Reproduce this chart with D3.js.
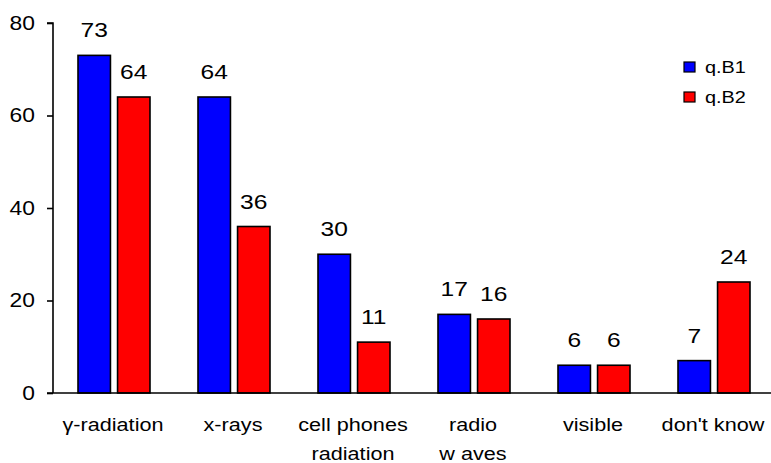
<!DOCTYPE html>
<html>
<head>
<meta charset="utf-8">
<script src="https://cdn.jsdelivr.net/npm/d3@7"></script>
<style>
  body { margin: 0; background: #fff; }
  text { font-family: "Liberation Sans", Arial, sans-serif; fill: #000; }
</style>
</head>
<body>
<script>
const categories = [['γ-radiation'], ['x-rays'], ['cell phones', 'radiation'], ['radio', 'w aves'], ['visible'], ["don't know"]];
const series = ['q.B1', 'q.B2'];
const b1 = [73, 64, 30, 17, 6, 7];
const b2 = [64, 36, 11, 16, 6, 24];
const yTicks = [0, 20, 40, 60, 80];
const colors = ['#0000ff', '#ff0000'];

const width = 771;
const height = 463;
const padLeft = 53;
const padRight = 773;
const padTop = 23;
const padBottom = 393;
// the original's text is a bit stretched sideways
const sx = 1.17;

const svg = d3.select('body')
  .append('svg')
  .attr('width', width)
  .attr('height', height);

const x0 = d3.scaleBand()
  .domain(d3.range(categories.length))
  .range([padLeft, padRight]);

const x1 = d3.scaleBand()
  .domain(series)
  .range([25, 97])
  .paddingInner(0.18);

const y = d3.scaleLinear()
  .domain([0, 80])
  .range([padBottom, padTop]);

const rows = categories.map((c, i) => ({i, vals: [b1[i], b2[i]]}));

const groups = svg.selectAll('g.grp')
  .data(rows)
  .enter()
  .append('g')
  .attr('class', 'grp')
  .attr('transform', d => `translate(${x0(d.i)},0)`);

groups.selectAll('rect')
  .data(d => d.vals.map((v, k) => ({v, k})))
  .enter()
  .append('rect')
  .attr('x', d => x1(series[d.k]))
  .attr('y', d => y(d.v))
  .attr('width', x1.bandwidth())
  .attr('height', d => y(0) - y(d.v))
  .style('fill', d => colors[d.k])
  .style('stroke', '#000')
  .style('stroke-width', 1.6);

groups.selectAll('text.val')
  .data(d => d.vals.map((v, k) => ({v, k})))
  .enter()
  .append('text')
  .attr('class', 'val')
  .attr('transform', d => `translate(${x1(series[d.k]) + x1.bandwidth() / 2},${y(d.v) - 18}) scale(${sx},1)`)
  .attr('text-anchor', 'middle')
  .style('font-size', '21px')
  .text(d => d.v);

const yAxis = d3.axisLeft(y)
  .tickValues(yTicks)
  .tickSize(6)
  .tickPadding(11);

const ya = svg.append('g')
  .attr('transform', `translate(${padLeft},0)`)
  .call(yAxis);
ya.select('.domain').attr('stroke-width', 1.6).attr('d', `M-6,${padTop}H0V${padBottom}`);
ya.selectAll('line').attr('stroke-width', 1.6);
ya.selectAll('text')
  .attr('x', 0)
  .attr('transform', `translate(-18,0) scale(${sx},1)`)
  .style('font-size', '19.5px')
  .style('font-family', '"Liberation Sans", Arial, sans-serif');

svg.append('line')
  .attr('x1', padLeft - 6).attr('x2', padRight)
  .attr('y1', padBottom).attr('y2', padBottom)
  .attr('stroke', '#000')
  .attr('stroke-width', 1.6);

const labels = svg.selectAll('text.cat')
  .data(categories)
  .enter()
  .append('text')
  .attr('class', 'cat')
  .attr('text-anchor', 'middle')
  .style('font-size', '18.5px')
  .attr('transform', (d, i) => `translate(${x0(i) + x0.bandwidth() / 2},431) scale(${sx},1)`);

labels.selectAll('tspan')
  .data(d => d)
  .enter()
  .append('tspan')
  .attr('x', 0)
  .attr('y', (d, j) => j * 29.5)
  .text(d => d);

const legend = svg.selectAll('g.leg')
  .data(series)
  .enter()
  .append('g')
  .attr('class', 'leg')
  .attr('transform', (d, i) => `translate(684,${62 + i * 30})`);

legend.append('rect')
  .attr('width', 11)
  .attr('height', 10)
  .style('fill', (d, i) => colors[i])
  .style('stroke', '#000')
  .style('stroke-width', 1.2);

legend.append('text')
  .attr('transform', `translate(21,11) scale(${sx},1)`)
  .style('font-size', '17px')
  .text(d => d);
</script>
</body>
</html>
